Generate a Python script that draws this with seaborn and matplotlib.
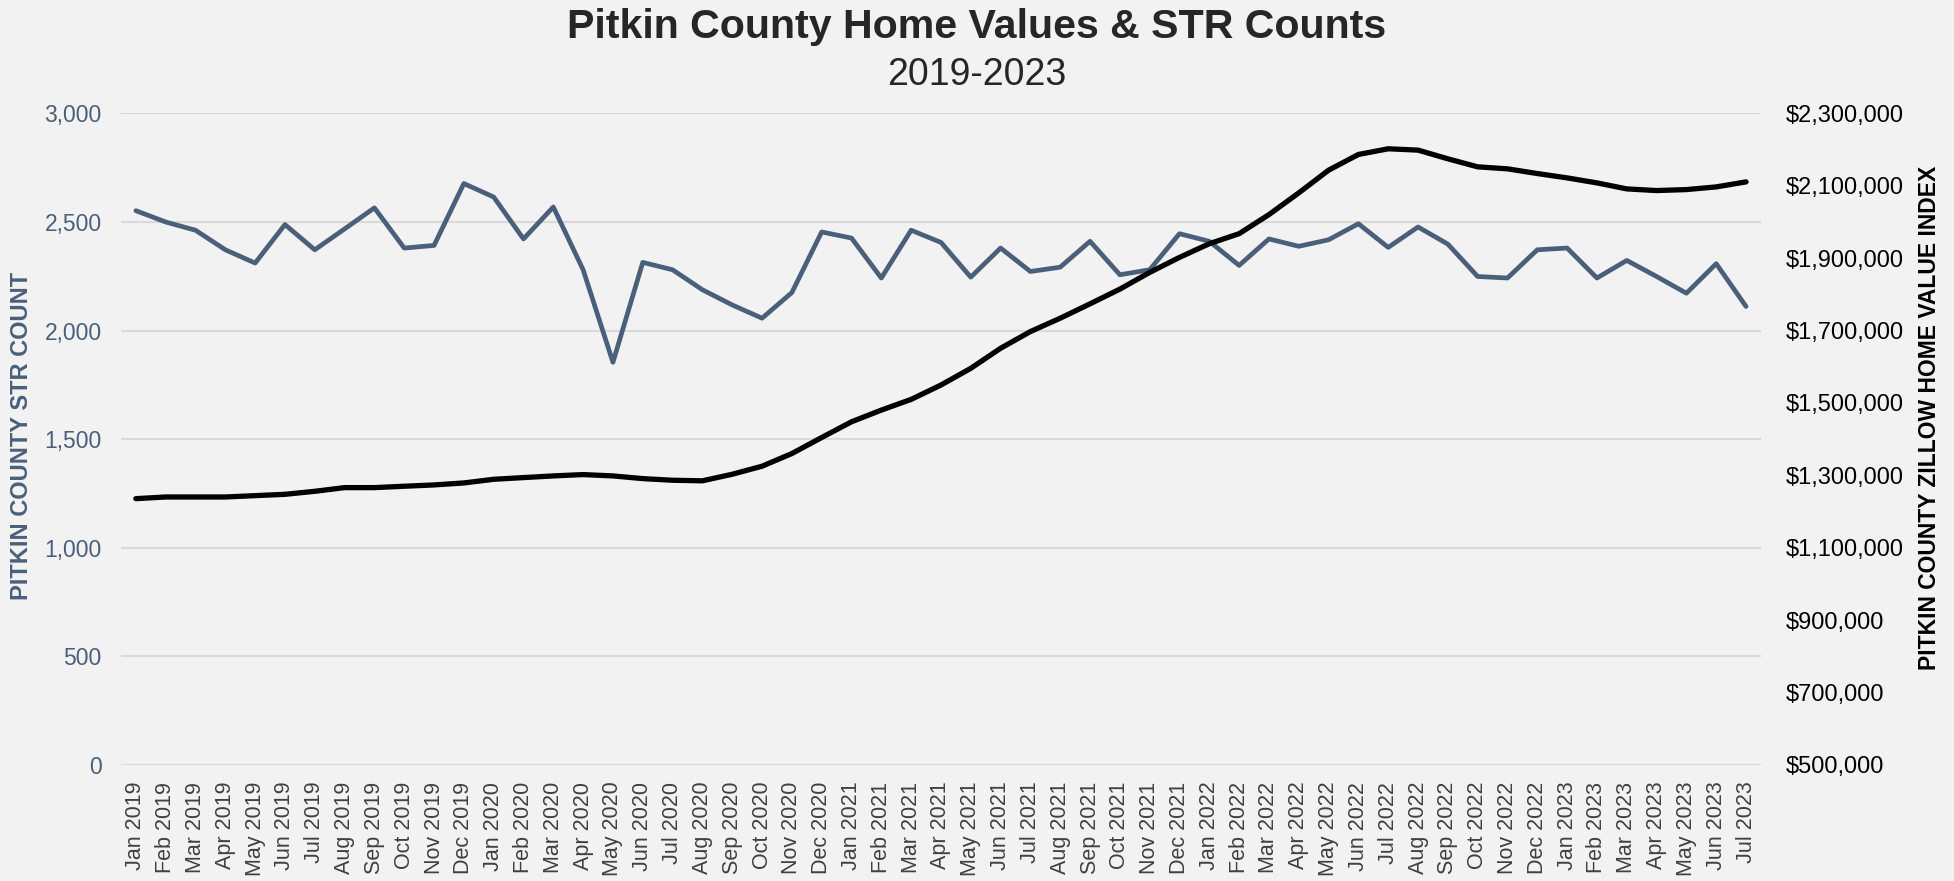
import numpy as np
import pandas as pd
import matplotlib
matplotlib.use("Agg")
import matplotlib.pyplot as plt
import seaborn as sns
from matplotlib.ticker import FuncFormatter

months = ["Jan", "Feb", "Mar", "Apr", "May", "Jun", "Jul", "Aug", "Sep", "Oct", "Nov", "Dec"]
month_labels = [f"{m} {y}" for y in range(2019, 2024) for m in months][:55]

str_counts = [2552, 2500, 2462, 2372, 2311, 2488, 2372, 2468, 2565, 2380, 2392, 2677,
              2615, 2422, 2569, 2280, 1854, 2314, 2280, 2188, 2118, 2057, 2175, 2454,
              2426, 2242, 2462, 2406, 2246, 2380, 2272, 2292, 2411, 2257, 2280, 2446,
              2411, 2300, 2422, 2388, 2418, 2492, 2383, 2477, 2398, 2249, 2242, 2372,
              2380, 2242, 2323, 2249, 2172, 2308, 2111]

home_values = [1235700, 1240300, 1240300, 1240300, 1244000, 1247700, 1256000, 1266200,
               1266200, 1270000, 1273600, 1279100, 1289200, 1293900, 1298500, 1302200,
               1298500, 1291100, 1286500, 1285000, 1303100, 1325300, 1360300, 1404600,
               1448000, 1480300, 1509900, 1549600, 1595700, 1651100, 1697300, 1734200,
               1773900, 1814500, 1860700, 1902200, 1940000, 1967700, 2020400, 2080400,
               2143100, 2186500, 2202200, 2198500, 2174500, 2152300, 2146800, 2133800,
               2121800, 2108000, 2091400, 2086800, 2089500, 2096900, 2110800]

df = pd.DataFrame({
    "idx": np.arange(len(month_labels)),
    "month": month_labels,
    "str_count": str_counts,
    "home_value": home_values,
})

bg = "#f2f2f2"
slate = "#4a5f7a"

sns.set_style("white")
plt.rcParams["font.family"] = ["Liberation Sans", "DejaVu Sans"]

fig = plt.figure(figsize=(19.54, 8.81), dpi=100, facecolor=bg)
ax = fig.add_axes([0.0619, 0.1317, 0.8393, 0.7396])
ax.set_facecolor(bg)
ax2 = ax.twinx()

sns.lineplot(data=df, x="idx", y="str_count", ax=ax, color=slate, linewidth=3.4, zorder=3)
sns.lineplot(data=df, x="idx", y="home_value", ax=ax2, color="black", linewidth=3.8, zorder=4)

ax.set_xlim(-0.5, len(month_labels) - 0.5)
ax.set_ylim(0, 3000)
ax.set_yticks(range(0, 3001, 500))
ax.yaxis.set_major_formatter(FuncFormatter(lambda v, p: f"{int(v):,}"))
ax2.set_ylim(500000, 2300000)
ax2.set_yticks(range(500000, 2300001, 200000))
ax2.yaxis.set_major_formatter(FuncFormatter(lambda v, p: f"${int(v):,}"))

ax.set_xticks(df["idx"])
ax.set_xticklabels(df["month"], rotation=90)
ax.grid(axis="y", color="#d9d9d9", linewidth=1.5)
ax.set_axisbelow(True)

for a in (ax, ax2):
    for s in a.spines.values():
        s.set_visible(False)

ax.tick_params(axis="x", length=0, pad=12, labelsize=15.5, labelcolor="#404040")
ax.tick_params(axis="y", length=0, pad=14, labelsize=16.5, labelcolor=slate)
ax2.tick_params(axis="y", length=0, pad=18, labelsize=17, labelcolor="black")

ax.set_xlabel("")
ax.set_ylabel("PITKIN COUNTY STR COUNT", fontsize=17, fontweight="bold", color=slate)
ax.yaxis.set_label_coords(-0.0537, 0.505)
ax2.set_ylabel("PITKIN COUNTY ZILLOW HOME VALUE INDEX", fontsize=16.5, fontweight="bold",
               color="black", rotation=90)
ax2.yaxis.set_label_coords(1.0957, 0.532)

fig.text(0.5, 0.969, "Pitkin County Home Values & STR Counts", ha="center", va="center",
         fontsize=29.6, fontweight="bold", color="#262626")
fig.text(0.5, 0.915, "2019-2023", ha="center", va="center", fontsize=27,
         color="#262626")

fig.savefig("out.png", dpi=100, facecolor=bg)
